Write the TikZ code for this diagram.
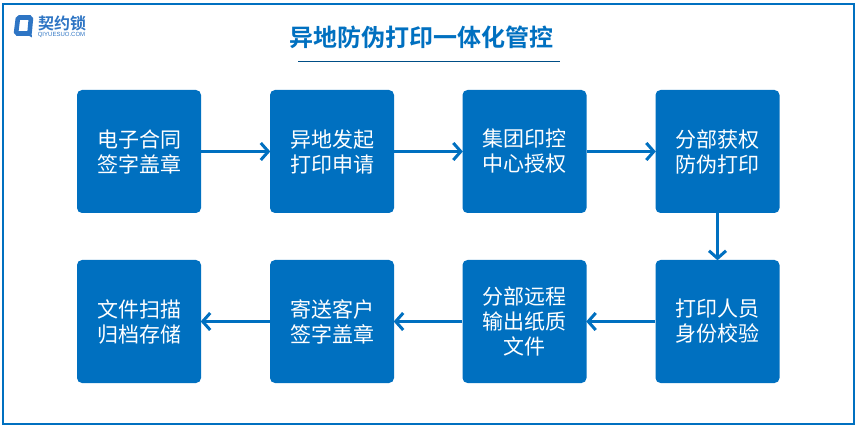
\documentclass[tikz,border=0pt]{standalone}
\usepackage{fontspec}
\setmainfont{Noto Sans CJK SC}[BoldFont={Noto Sans CJK SC Bold}]
\setsansfont{Liberation Sans}
\usetikzlibrary{arrows.meta}
\definecolor{qblue}{HTML}{0070C0}
\definecolor{qlogo}{HTML}{2E75C4}
\tikzset{
  x=1pt,y=-1pt,
  stepbox/.style={fill=qblue,text=white,rounded corners=5pt,minimum width=124pt,minimum height=123pt,inner sep=0pt,align=center,font=\fontsize{21}{25}\selectfont},
  flow/.style={draw=qblue,line width=3pt,-{Straight Barb[length=7.5pt,width=17pt,line width=3pt]},shorten >=-0.5pt}
}
\begin{document}
\begin{tikzpicture}
\useasboundingbox (0,0) rectangle (858,427);
\fill[white] (0,0) rectangle (858,427);
\draw[qblue,line width=2.2pt] (3,4) rectangle (854,424);
% logo
\draw[qlogo,line width=4.6pt,rounded corners=1.5pt] (18,17.5) -- (31,17.5) -- (29.5,33.5) -- (16,33.5) -- cycle;
\fill[qlogo] (26,34) -- (32,37.5) -- (31.5,33) -- cycle;
\node[text=qlogo,inner sep=0pt,font=\fontsize{16}{17}\bfseries\selectfont] (logotext) at (62,23.5) {契约锁};
\node[text=qlogo,inner sep=0pt,font=\sffamily\fontsize{6}{7}\selectfont] (logosub) at (61.5,35) {QIYUESUO.COM};
% title
\node[text=qblue,inner sep=0pt,font=\fontsize{24}{28}\bfseries\selectfont] (title) at (421,37) {异地防伪打印一体化管控};
\coordinate (ruleL) at (298,61.5);
\coordinate (ruleR) at (560,61.5);
\draw[qblue!70!black,line width=0.7pt] (ruleL) -- (ruleR);
% boxes
\node[stepbox] (a) at (139,151.5) {电子合同\\签字盖章};
\node[stepbox] (b) at (332,151.5) {异地发起\\打印申请};
\node[stepbox] (c) at (524.5,151.5) {集团印控\\中心授权};
\node[stepbox] (d) at (717.5,151.5) {分部获权\\防伪打印};
\node[stepbox] (e) at (717.5,321.5) {打印人员\\身份校验};
\node[stepbox] (f) at (524.5,321.5) {分部远程\\输出纸质\\文件};
\node[stepbox] (g) at (332,321.5) {寄送客户\\签字盖章};
\node[stepbox] (h) at (139,321.5) {文件扫描\\归档存储};
% connectors
\draw[flow] (a) -- (b);
\draw[flow] (b) -- (c);
\draw[flow] (c) -- (d);
\draw[flow] (d) -- (e);
\draw[flow] (e) -- (f);
\draw[flow] (f) -- (g);
\draw[flow] (g) -- (h);
\end{tikzpicture}
\end{document}
